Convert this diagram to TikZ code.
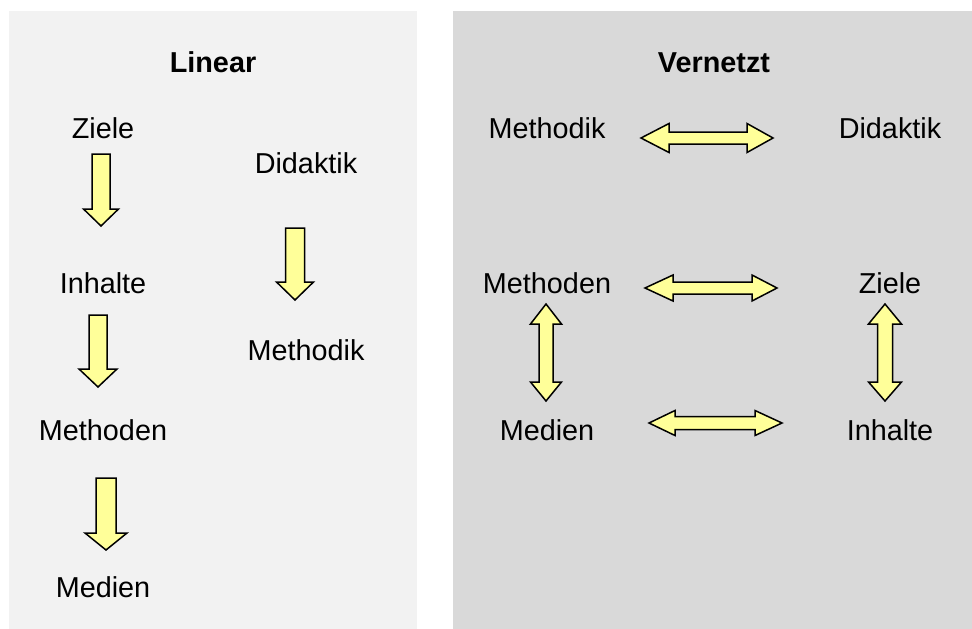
\documentclass[tikz,border=0pt]{standalone}
\usepackage{fontspec}
\setmainfont{Liberation Sans}
\usetikzlibrary{positioning}
\definecolor{panellight}{HTML}{F2F2F2}
\definecolor{paneldark}{HTML}{D9D9D9}
\definecolor{arrowyellow}{HTML}{FFFF99}
\tikzstyle{term} = [anchor=base, inner sep=0pt, font=\fontsize{28.8}{34}\selectfont]
\tikzstyle{heading} = [term, font=\fontsize{28.8}{34}\selectfont\bfseries]
\tikzstyle{block} = [draw=black, line width=1.5pt, fill=arrowyellow, line join=miter]

% block arrow pointing down: x, top, neck, tip, shaft half width, head half width
\newcommand{\downblock}[6]{%
  \draw[block] ({#1-#5},#2) -- ({#1+#5},#2) -- ({#1+#5},#3) -- ({#1+#6},#3)
    -- (#1,#4) -- ({#1-#6},#3) -- ({#1-#5},#3) -- cycle;}
% double block arrow, horizontal: left tip, left neck, right neck, right tip, y, shaft half, head half
\newcommand{\hdoubleblock}[7]{%
  \draw[block] (#1,#5) -- (#2,{#5-#7}) -- (#2,{#5-#6}) -- (#3,{#5-#6}) -- (#3,{#5-#7})
    -- (#4,#5) -- (#3,{#5+#7}) -- (#3,{#5+#6}) -- (#2,{#5+#6}) -- (#2,{#5+#7}) -- cycle;}
% double block arrow, vertical: top tip, top neck, bottom neck, bottom tip, x, shaft half, head half
\newcommand{\vdoubleblock}[7]{%
  \draw[block] (#5,#1) -- ({#5+#7},#2) -- ({#5+#6},#2) -- ({#5+#6},#3) -- ({#5+#7},#3)
    -- (#5,#4) -- ({#5-#7},#3) -- ({#5-#6},#3) -- ({#5-#6},#2) -- ({#5-#7},#2) -- cycle;}

\begin{document}
\begin{tikzpicture}[x=1pt, y=-1pt]
    \useasboundingbox (0,0) rectangle (972,629);

    % Panels
    \fill[panellight] (9,11) rectangle (417,629);
    \fill[paneldark] (453,11) rectangle (972,629);

    % Linear
    \node[heading] (linear) at (213,72) {Linear};
    \node[term] (zieleL) at (103,138) {Ziele};
    \node[term] (inhalteL) at (103,293) {Inhalte};
    \node[term] (methodenL) at (103,440) {Methoden};
    \node[term] (medienL) at (103,597) {Medien};
    \node[term] (didaktikL) at (306,173) {Didaktik};
    \node[term] (methodikL) at (306,360) {Methodik};

    \downblock{101}{154}{209}{226}{9}{17.5}
    \downblock{98}{315}{369}{387}{9}{19}
    \downblock{106}{478}{533}{550}{10}{21}
    \downblock{295}{228}{282}{300}{9.5}{18.5}

    % Vernetzt
    \node[heading] (vernetzt) at (714,72) {Vernetzt};
    \node[term] (methodikR) at (547,138) {Methodik};
    \node[term] (didaktikR) at (890,138) {Didaktik};
    \node[term] (methodenR) at (547,293) {Methoden};
    \node[term] (zieleR) at (890,293) {Ziele};
    \node[term] (medienR) at (547,440) {Medien};
    \node[term] (inhalteR) at (890,440) {Inhalte};

    \hdoubleblock{641}{669}{747}{773}{138}{6}{14.5}
    \hdoubleblock{645}{673}{752}{777}{288}{6}{13}
    \hdoubleblock{649}{675}{755}{782}{423}{6.5}{12.5}
    \vdoubleblock{304}{324}{382}{401}{546}{7}{15.5}
    \vdoubleblock{304}{324}{382}{401}{885}{7.5}{16.5}
\end{tikzpicture}
\end{document}
